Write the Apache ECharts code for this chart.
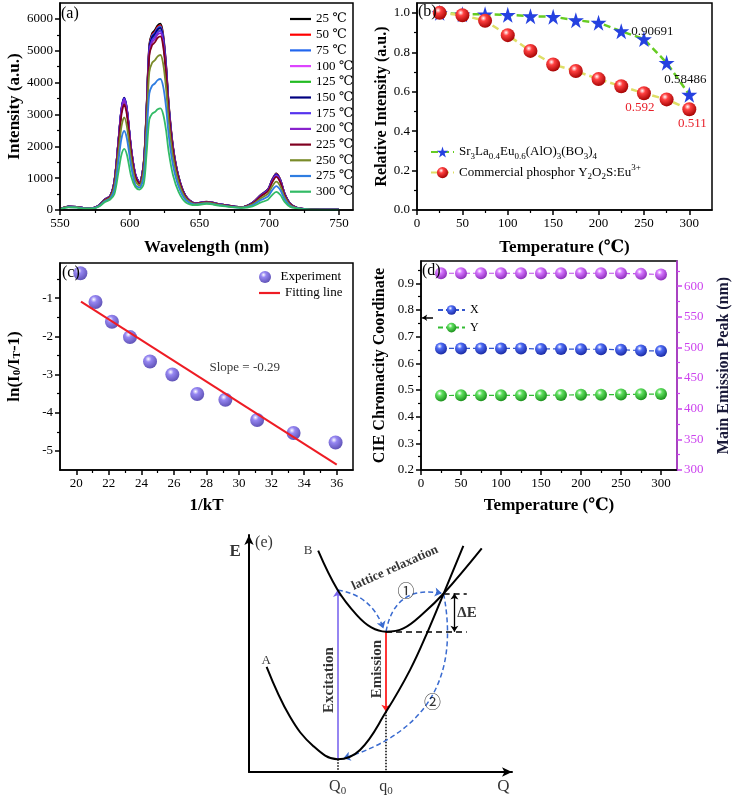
<!DOCTYPE html>
<html><head><meta charset="utf-8">
<script src="https://cdn.jsdelivr.net/npm/echarts@6/dist/echarts.min.js"></script>
<style>html,body{margin:0;padding:0;background:#fff}#c{width:735px;height:797px}</style>
</head><body><div id="c"></div>
<script>
// ---------------- Panel (a): emission spectra ----------------
const wavelengths = [550,556,562,568,574,578,582,586,589,592,594,596,598,601,604,607,610,612,614,616,618,620,622,624,626,628,631,635,640,647,655,665,680,688,694,699,702,705,708,711,715,720,727,740,750];
const tempLabels = ['25 ℃','50 ℃','75 ℃','100 ℃','125 ℃','150 ℃','175 ℃','200 ℃','225 ℃','250 ℃','275 ℃','300 ℃'];
const int25  = [30,110,100,60,70,150,330,450,900,2200,3100,3450,3100,1900,1100,870,1500,3200,5200,5550,5650,5800,5850,5500,4600,3300,2000,1050,450,210,260,180,90,230,480,650,950,1150,950,520,200,70,25,10,10];
const int50  = [30,109,99,59,69,149,327,446,908,2220,3128,3481,3128,1917,1110,861,1487,3171,5153,5500,5599,5748,5797,5451,4559,3270,1982,1041,446,208,257,178,89,228,475,644,941,1139,941,515,198,69,25,10,10];
const int75  = [30,109,99,59,69,149,327,446,913,2231,3143,3498,3143,1927,1115,861,1478,3152,5122,5467,5565,5713,5762,5418,4531,3251,1970,1034,443,208,257,178,89,225,470,637,931,1127,931,510,196,69,25,10,10];
const int100 = [29,108,98,59,69,147,323,441,918,2244,3162,3519,3162,1938,1122,853,1461,3117,5065,5406,5503,5649,5698,5357,4480,3214,1948,1023,438,206,255,176,88,222,463,627,917,1110,917,502,193,69,25,10,10];
const int125 = [29,107,97,58,68,146,320,437,908,2220,3128,3481,3128,1917,1110,844,1449,3091,5023,5361,5458,5603,5651,5313,4444,3188,1932,1014,435,204,252,175,87,219,456,618,903,1093,903,494,190,68,24,10,10];
const int150 = [30,109,99,59,69,149,327,446,921,2251,3171,3529,3171,1944,1125,861,1467,3130,5086,5428,5526,5672,5721,5379,4499,3227,1956,1027,440,208,257,178,89,224,468,634,926,1121,926,507,195,69,25,10,10];
const int175 = [29,108,98,59,69,147,323,441,913,2231,3143,3498,3143,1927,1115,853,1443,3078,5002,5339,5435,5580,5628,5291,4425,3175,1924,1010,433,206,255,176,88,220,458,621,907,1098,907,497,191,69,25,10,10];
const int200 = [29,106,97,58,68,145,318,434,900,2200,3100,3450,3100,1900,1100,840,1424,3037,4935,5267,5362,5504,5552,5220,4365,3132,1898,996,427,203,251,174,87,214,446,605,884,1070,884,484,186,68,24,10,10];
const int225 = [28,104,95,57,66,142,312,425,866,2116,2982,3319,2982,1828,1058,822,1398,2982,4846,5173,5266,5406,5452,5126,4287,3076,1864,979,419,198,246,170,85,208,434,588,860,1041,860,471,181,66,24,9,9];
const int250 = [26,96,88,53,61,131,289,394,759,1855,2613,2908,2613,1602,927,761,1248,2662,4326,4618,4701,4826,4867,4576,3827,2746,1664,874,374,184,228,158,79,178,372,504,736,891,736,403,155,61,22,9,9];
const int275 = [24,89,81,48,56,121,266,362,647,1582,2229,2481,2229,1366,791,700,1055,2250,3656,3902,3972,4077,4113,3867,3234,2320,1406,738,316,169,209,145,72,150,312,423,618,748,618,338,130,56,20,8,8];
const int300 = [22,81,74,44,51,110,243,331,501,1225,1727,1922,1727,1058,720,639,818,1744,2834,3025,3079,3161,3188,2998,2507,1799,1090,572,245,154,191,132,66,114,238,322,470,569,470,257,99,51,18,7,7];
const spectra = [int25,int50,int75,int100,int125,int150,int175,int200,int225,int250,int275,int300];
const aXTicks = [550,600,650,700,750], aXMinor = [575,625,675,725];
const aYTicks = [0,1000,2000,3000,4000,5000,6000], aYMinor = [500,1500,2500,3500,4500,5500];

// ---------------- Panel (b): relative intensity ----------------
const tempsB = [25,50,75,100,125,150,175,200,225,250,275,300];
const relSample = [1.0,0.993,0.993,0.99,0.983,0.98,0.963,0.95,0.90691,0.867,0.747,0.58486];
const relCommercial = [1.0,0.988,0.96,0.887,0.807,0.738,0.705,0.664,0.628,0.592,0.561,0.511];
const sampleLabelIdx = [8,11], commercialLabelIdx = [9,11];
const bXTicks = [0,50,100,150,200,250,300], bXMinor = [25,75,125,175,225,275];
const bYTicks = [0,0.2,0.4,0.6,0.8,1.0], bYMinor = [0.1,0.3,0.5,0.7,0.9];

// ---------------- Panel (c): ln(I0/IT-1) vs 1/kT ----------------
const invKT = [20.25,21.18,22.19,23.30,24.53,25.90,27.43,29.16,31.11,33.35,35.93];
const lnRatio = [-0.35,-1.10,-1.62,-2.02,-2.66,-3.00,-3.51,-3.66,-4.19,-4.53,-4.78];
const fitX = [20.29,36.0], fitY = [-1.09,-5.36];
const slopeText = 'Slope = -0.29', slopeAt = [30.35,-2.82];
const cXTicks = [20,22,24,26,28,30,32,34,36], cXMinor = [21,23,25,27,29,31,33,35];
const cYTicks = [-5,-4,-3,-2,-1], cYMinor = [-4.5,-3.5,-2.5,-1.5,-0.5];

// ---------------- Panel (d): CIE coordinates and peak ----------------
const tempsD = [25,50,75,100,125,150,175,200,225,250,275,300];
const cieX = [0.656,0.656,0.656,0.656,0.656,0.654,0.654,0.653,0.653,0.651,0.648,0.646];
const cieY = [0.479,0.480,0.480,0.480,0.480,0.480,0.481,0.482,0.482,0.483,0.484,0.485];
const peakNm = [621,621,621,621,621,621,621,621,621,621,620,619];
const dArrow = [[15,0.771],[1.5,0.771]];
const dXTicks = [0,50,100,150,200,250,300], dXMinor = [25,75,125,175,225,275];
const dYTicks = [0.2,0.3,0.4,0.5,0.6,0.7,0.8,0.9], dYMinor = [0.25,0.35,0.45,0.55,0.65,0.75,0.85,0.95];
const dRTicks = [300,350,400,450,500,550,600], dRMinor = [325,375,425,475,525,575,625];

// ---------------- Panel (e): configuration coordinate diagram ----------------
const Q0 = 33.7, q0 = 52.1;
const curveA = [[6.7,44.4],[15.6,23.3],[24.4,11.0],[33.7,5.4],[42.2,9.3],[52.1,25.4],[61.2,43.0],[68.2,59.9],[74.0,75.3],[81.5,95.4]];
const curveB = [[26.3,93.4],[33.7,76.8],[41.0,66.2],[46.5,61.0],[52.1,59.2],[58.7,60.6],[66.3,67.0],[74.0,75.3],[88.5,94.4]];
const excitation = [[Q0,5.4],[Q0,76.8]];
const emission = [[q0,59.2],[q0,25.4]];
const dropLines = [[[Q0,5.4],[Q0,0]],[[q0,25.4],[q0,0]]];
const levelLines = [[[q0,59.2],[82.8,59.2]],[[74.0,75.3],[82.8,75.3]]];
const deltaE = [[78.1,75.3],[78.1,59.2]];
const relaxPaths = [[[33.7,76.8],[51.1,60.6]],[[52.1,59.2],[73.3,75.4]],[[74.0,75.3],[35.9,5.8]]];
const relaxBend = [0.3,0.5,0.45];
const eLabelText = ['E','(e)','B','A','lattice relaxation','Excitation','Emission','①','②','ΔE','Q','Q{s|0}','q{s|0}'];
const eLabelX = [-5.3,5.7,22.5,6.5,55.5,30.5,48.8,59.7,69.8,82.9,96.7,Q0,q0];
const eLabelY = [93,96.8,93.4,47.0,86.1,38.8,43.4,75.7,28.7,67.2,-6.2,-6.2,-6.2];

// ---------------- styling helpers ----------------
const FONT = '"Liberation Serif","DejaVu Serif","Noto Sans CJK SC",serif';
function sphere(light, dark){
  return {type:'radial', x:0.38, y:0.32, r:0.72, colorStops:[{offset:0,color:'#ffffff'},{offset:0.3,color:light},{offset:1,color:dark}]};
}
function majorAx(o){
  const c = o.color || '#000';
  return {
    type:'value', gridIndex:o.grid, position:o.pos, min:o.min, max:o.max,
    axisLine:{show:true, onZero:false, lineStyle:{color:c, width:1.5}},
    axisTick:{show:true, inside:false, length:5, customValues:o.majors, lineStyle:{color:c, width:1.5}},
    axisLabel:{show:true, customValues:o.majors, formatter:o.fmt || (v => String(v)), fontFamily:FONT, fontSize:13, color:o.labelColor || c, margin:o.margin || 7},
    splitLine:{show:false},
    name:o.name, nameLocation:'middle', nameGap:o.gap, nameRotate:o.rot,
    nameTextStyle:{fontFamily:FONT, fontWeight:'bold', fontSize:o.nameSize || 17, color:o.nameColor || '#000', rich:o.rich},
    z:5
  };
}
function minorAx(o){
  const c = o.color || '#000';
  return {
    type:'value', gridIndex:o.grid, position:o.pos, min:o.min, max:o.max,
    axisLine:{show:false, onZero:false},
    axisTick:{show:true, inside:false, length:3, customValues:o.minors, lineStyle:{color:c, width:1.2}},
    axisLabel:{show:false}, splitLine:{show:false}, z:5
  };
}
const gA = {left:60, top:3, width:293, height:207};
const gB = {left:417, top:3, width:295, height:207};
const gC = {left:60, top:263, width:293, height:207};
const gD = {left:421, top:261, width:256, height:209};
const gE = {left:249, top:535, width:263, height:237};
const frame = {show:true, borderColor:'#000', borderWidth:1.5, backgroundColor:'transparent', containLabel:false};
const plain = {show:false, containLabel:false};

const specColors = ['#000000','#ff0000','#2266ee','#dd44ff','#22bb22','#000080','#5533ee','#8822cc','#800020','#7a8b2a','#2f7de1','#33bb66'];

const sampleName = 'Sr3La0.4Eu0.6(AlO)3(BO3)4';
const commName = 'Commercial phosphor Y2O2S:Eu3+';
const richSub = {
  s:{fontFamily:FONT, fontSize:9, lineHeight:9, verticalAlign:'bottom', color:'#000'},
  p:{fontFamily:FONT, fontSize:9, lineHeight:9, verticalAlign:'top', color:'#000'}
};

const series = [];
// (a)
spectra.forEach((arr, k) => {
  series.push({
    type:'line', name:tempLabels[k], xAxisIndex:0, yAxisIndex:0, symbol:'none', smooth:0.3,
    lineStyle:{color:specColors[k], width:1.8}, itemStyle:{color:specColors[k]},
    data: wavelengths.map((w,i) => [w, arr[i]])
  });
});
// (b)
const starPath = 'path://M50,0 L61,35 L98,35 L68,57 L79,91 L50,70 L21,91 L32,57 L2,35 L39,35 Z';
series.push({
  type:'line', name:sampleName, xAxisIndex:2, yAxisIndex:2, symbol:starPath, symbolSize:16,
  itemStyle:{color:'#2541e0'}, lineStyle:{color:'#66cc22', width:2.5, type:[7,4]},
  data: tempsB.map((t,i) => {
    const item = {value:[t, relSample[i]]};
    if (sampleLabelIdx.indexOf(i) >= 0) {
      item.label = i === 8
        ? {show:true, position:'right', distance:2, formatter:String(relSample[i]), fontFamily:FONT, fontSize:13, color:'#111'}
        : {show:true, position:'top', distance:1, offset:[-4,0], formatter:String(relSample[i]), fontFamily:FONT, fontSize:13, color:'#111'};
    }
    return item;
  })
});
series.push({
  type:'line', name:commName, xAxisIndex:2, yAxisIndex:2, symbol:'circle', symbolSize:14,
  itemStyle:{color:sphere('#ff4040','#a00000')}, lineStyle:{color:'#dede66', width:2.5, type:[7,4]},
  data: tempsB.map((t,i) => {
    const item = {value:[t, relCommercial[i]]};
    if (commercialLabelIdx.indexOf(i) >= 0) {
      item.label = {show:true, position:'bottom', distance:1, offset: i === 9 ? [-4,0] : [3,0], formatter:String(relCommercial[i]), fontFamily:FONT, fontSize:13, color:'#e8202a'};
    }
    return item;
  })
});
// (c)
series.push({
  type:'scatter', name:'Experiment', xAxisIndex:4, yAxisIndex:4, symbolSize:14,
  itemStyle:{color:sphere('#7b68ee','#3424a0')},
  data: invKT.map((x,i) => [x, lnRatio[i]])
});
series.push({
  type:'line', name:'Fitting line', xAxisIndex:4, yAxisIndex:4, symbol:'none',
  lineStyle:{color:'#ee1c24', width:2}, itemStyle:{color:'#ee1c24'},
  data: fitX.map((x,i) => [x, fitY[i]])
});
series.push({
  type:'scatter', name:'slopeNote', xAxisIndex:4, yAxisIndex:4, symbolSize:0, silent:true,
  label:{show:true, position:'inside', formatter:slopeText, fontFamily:FONT, fontSize:13, color:'#000'},
  data:[slopeAt]
});
// (d)
series.push({
  type:'line', name:'X', xAxisIndex:6, yAxisIndex:6, symbol:'circle', symbolSize:12,
  itemStyle:{color:sphere('#4f6cf5','#1626a0')}, lineStyle:{color:'#3355cc', width:1.2, type:[5,3]},
  data: tempsD.map((t,i) => [t, cieX[i]])
});
series.push({
  type:'line', name:'Y', xAxisIndex:6, yAxisIndex:6, symbol:'circle', symbolSize:12,
  itemStyle:{color:sphere('#5fe05f','#178a17')}, lineStyle:{color:'#33bb33', width:1.2, type:[5,3]},
  data: tempsD.map((t,i) => [t, cieY[i]])
});
series.push({
  type:'line', name:'peak', xAxisIndex:6, yAxisIndex:7, symbol:'circle', symbolSize:12,
  itemStyle:{color:sphere('#d676ff','#8a2ab8')}, lineStyle:{color:'#c050e8', width:1.2, type:[5,3]},
  data: tempsD.map((t,i) => [t, peakNm[i]])
});
series.push({
  type:'lines', name:'dArrow', coordinateSystem:'cartesian2d', xAxisIndex:6, yAxisIndex:6,
  symbol:['none','arrow'], symbolSize:5, lineStyle:{color:'#000', width:1.5, opacity:1},
  data:[{coords:dArrow}]
});
// (e)
series.push({
  type:'line', name:'curveA', xAxisIndex:8, yAxisIndex:10, symbol:'none', smooth:0.4,
  lineStyle:{color:'#000', width:2}, data:curveA
});
series.push({
  type:'line', name:'curveB', xAxisIndex:8, yAxisIndex:10, symbol:'none', smooth:0.4,
  lineStyle:{color:'#000', width:2}, data:curveB
});
series.push({
  type:'lines', name:'excitation', coordinateSystem:'cartesian2d', xAxisIndex:8, yAxisIndex:10,
  symbol:['none','arrow'], symbolSize:7, lineStyle:{color:'#7b68ee', width:1.6, opacity:1},
  data:[{coords:excitation}]
});
series.push({
  type:'lines', name:'emission', coordinateSystem:'cartesian2d', xAxisIndex:8, yAxisIndex:10,
  symbol:['none','arrow'], symbolSize:7, lineStyle:{color:'#ff2020', width:1.8, opacity:1},
  data:[{coords:emission}]
});
series.push({
  type:'lines', name:'drop', coordinateSystem:'cartesian2d', xAxisIndex:8, yAxisIndex:10,
  symbol:'none', lineStyle:{color:'#000', width:1.5, type:'dotted', opacity:1},
  data: dropLines.map(c => ({coords:c}))
});
series.push({
  type:'lines', name:'levels', coordinateSystem:'cartesian2d', xAxisIndex:8, yAxisIndex:10,
  symbol:'none', lineStyle:{color:'#000', width:1.5, type:[6,4], opacity:1},
  data: levelLines.map(c => ({coords:c}))
});
series.push({
  type:'lines', name:'deltaE', coordinateSystem:'cartesian2d', xAxisIndex:8, yAxisIndex:10,
  symbol:['arrow','arrow'], symbolSize:6, lineStyle:{color:'#000', width:1.3, opacity:1},
  data:[{coords:deltaE}]
});
series.push({
  type:'lines', name:'relax', coordinateSystem:'cartesian2d', xAxisIndex:8, yAxisIndex:10,
  symbol:['none','arrow'], symbolSize:7, lineStyle:{color:'#3a6bd0', width:1.5, type:[5,3], opacity:1},
  data: relaxPaths.map((c,i) => ({coords:c, lineStyle:{curveness:relaxBend[i]}}))
});
const eStyle = {
  'E':{fontSize:17, fontWeight:'bold'}, '(e)':{fontSize:16}, 'B':{fontSize:13}, 'A':{fontSize:13},
  'lattice relaxation':{fontSize:13, fontWeight:'bold', rotate:24},
  'Excitation':{fontSize:15, fontWeight:'bold', rotate:90},
  'Emission':{fontSize:15, fontWeight:'bold', rotate:90},
  '①':{fontSize:17}, '②':{fontSize:17}, 'ΔE':{fontSize:15, fontWeight:'bold'},
  'Q':{fontSize:17}, 'Q{s|0}':{fontSize:16}, 'q{s|0}':{fontSize:16}
};
series.push({
  type:'scatter', name:'eText', xAxisIndex:8, yAxisIndex:10, symbolSize:0, clip:false, silent:true,
  data: eLabelText.map((t,i) => {
    const st = eStyle[t];
    return {
      value:[eLabelX[i], eLabelY[i]],
      label:{show:true, position:'inside', formatter:t, fontFamily:FONT, color:'#000',
        fontSize:st.fontSize, fontWeight:st.fontWeight || 'normal', rotate:st.rotate || 0, lineHeight:20,
        rich:{s:{fontFamily:FONT, fontSize:11, lineHeight:11, verticalAlign:'bottom', color:'#000'}}}
    };
  })
});

const lineIconLegend = (names, left, top, gap) => ({
  data:names, orient:'vertical', left:left, top:top, padding:0, icon:'rect', itemWidth:21, itemHeight:2.2, itemGap:gap,
  textStyle:{fontFamily:FONT, fontSize:13, lineHeight:14, color:'#000'}
});

const option = {
  animation:false,
  backgroundColor:'#fff',
  title:[
    {text:'(a)', left:61, top:6, padding:0, textStyle:{fontFamily:FONT, fontSize:16, fontWeight:'normal', color:'#000'}},
    {text:'(b)', left:418, top:4, padding:0, textStyle:{fontFamily:FONT, fontSize:16, fontWeight:'normal', color:'#000'}},
    {text:'(c)', left:62, top:265, padding:0, textStyle:{fontFamily:FONT, fontSize:16, fontWeight:'normal', color:'#000'}},
    {text:'(d)', left:422, top:263, padding:0, textStyle:{fontFamily:FONT, fontSize:16, fontWeight:'normal', color:'#000'}}
  ],
  legend:[
    lineIconLegend(tempLabels, 290, 12, 1.7),
    {data:[sampleName, commName], orient:'vertical', left:430, top:143, padding:0, itemWidth:23, itemHeight:14, itemGap:2.6,
     formatter: n => n === sampleName ? 'Sr{s|3}La{s|0.4}Eu{s|0.6}(AlO){s|3}(BO{s|3}){s|4}' : 'Commercial phosphor Y{s|2}O{s|2}S:Eu{p|3+}',
     textStyle:{fontFamily:FONT, fontSize:13, lineHeight:18, color:'#000', rich:richSub}},
    {data:['Experiment'], orient:'vertical', left:259, top:270, padding:0, itemWidth:21, itemHeight:12,
     textStyle:{fontFamily:FONT, fontSize:13, lineHeight:14, color:'#000'}},
    lineIconLegend(['Fitting line'], 259, 286, 1),
    {data:['X','Y'], orient:'vertical', left:437, top:303, padding:0, itemWidth:27, itemHeight:12, itemGap:3.6,
     textStyle:{fontFamily:FONT, fontSize:12, lineHeight:14, color:'#000'}}
  ],
  grid:[
    Object.assign({}, gA, frame), Object.assign({}, gA, plain),
    Object.assign({}, gB, frame), Object.assign({}, gB, plain),
    Object.assign({}, gC, frame), Object.assign({}, gC, plain),
    Object.assign({}, gD, frame), Object.assign({}, gD, plain),
    Object.assign({}, gE, plain)
  ],
  xAxis:[
    majorAx({grid:0, pos:'bottom', min:550, max:760, majors:aXTicks, name:'Wavelength (nm)', gap:29}),
    minorAx({grid:1, pos:'bottom', min:550, max:760, minors:aXMinor}),
    majorAx({grid:2, pos:'bottom', min:0, max:325, majors:bXTicks, name:'Temperature (℃)', gap:29}),
    minorAx({grid:3, pos:'bottom', min:0, max:325, minors:bXMinor}),
    majorAx({grid:4, pos:'bottom', min:19, max:37, majors:cXTicks, name:'1/kT', gap:27}),
    minorAx({grid:5, pos:'bottom', min:19, max:37, minors:cXMinor}),
    majorAx({grid:6, pos:'bottom', min:0, max:320, majors:dXTicks, name:'Temperature (℃)', gap:27}),
    minorAx({grid:7, pos:'bottom', min:0, max:320, minors:dXMinor}),
    {type:'value', gridIndex:8, position:'bottom', min:0, max:100,
     axisLine:{show:true, onZero:false, symbol:['none','arrow'], symbolSize:[7,10], lineStyle:{color:'#000', width:2}},
     axisTick:{show:false}, axisLabel:{show:false}, splitLine:{show:false}}
  ],
  yAxis:[
    majorAx({grid:0, pos:'left', min:0, max:6500, majors:aYTicks, name:'Intensity (a.u.)', gap:27, rot:90}),
    minorAx({grid:1, pos:'left', min:0, max:6500, minors:aYMinor}),
    majorAx({grid:2, pos:'left', min:0, max:1.05, majors:bYTicks, fmt:v => v.toFixed(1), name:'Relative Intensity (a.u.)', gap:21, rot:90, nameSize:16}),
    minorAx({grid:3, pos:'left', min:0, max:1.05, minors:bYMinor}),
    majorAx({grid:4, pos:'left', min:-5.5, max:-0.08, majors:cYTicks, name:'ln(I{s|0}/I{s|T}-1)', gap:37, rot:90,
      rich:{s:{fontFamily:FONT, fontWeight:'bold', fontSize:11, lineHeight:11, verticalAlign:'bottom'}}}),
    minorAx({grid:5, pos:'left', min:-5.5, max:-0.08, minors:cYMinor}),
    majorAx({grid:6, pos:'left', min:0.2, max:0.984, majors:dYTicks, fmt:v => v.toFixed(1), name:'CIE Chromacity Coordinate', gap:33, rot:90, nameSize:16}),
    majorAx({grid:6, pos:'right', min:300, max:641, majors:dRTicks, color:'#cc44ee', name:'Main Emission Peak (nm)', gap:39, rot:90, nameSize:16, nameColor:'#1a1a3a'}),
    minorAx({grid:7, pos:'left', min:0.2, max:0.984, minors:dYMinor}),
    minorAx({grid:7, pos:'right', min:300, max:641, minors:dRMinor, color:'#cc44ee'}),
    {type:'value', gridIndex:8, position:'left', min:0, max:100,
     axisLine:{show:true, onZero:false, symbol:['none','arrow'], symbolSize:[7,10], lineStyle:{color:'#000', width:2}},
     axisTick:{show:false}, axisLabel:{show:false}, splitLine:{show:false}}
  ],
  series: series
};
const chart = echarts.init(document.getElementById('c'), null, {renderer:'canvas'});
chart.setOption(option);
</script>
</body></html>
